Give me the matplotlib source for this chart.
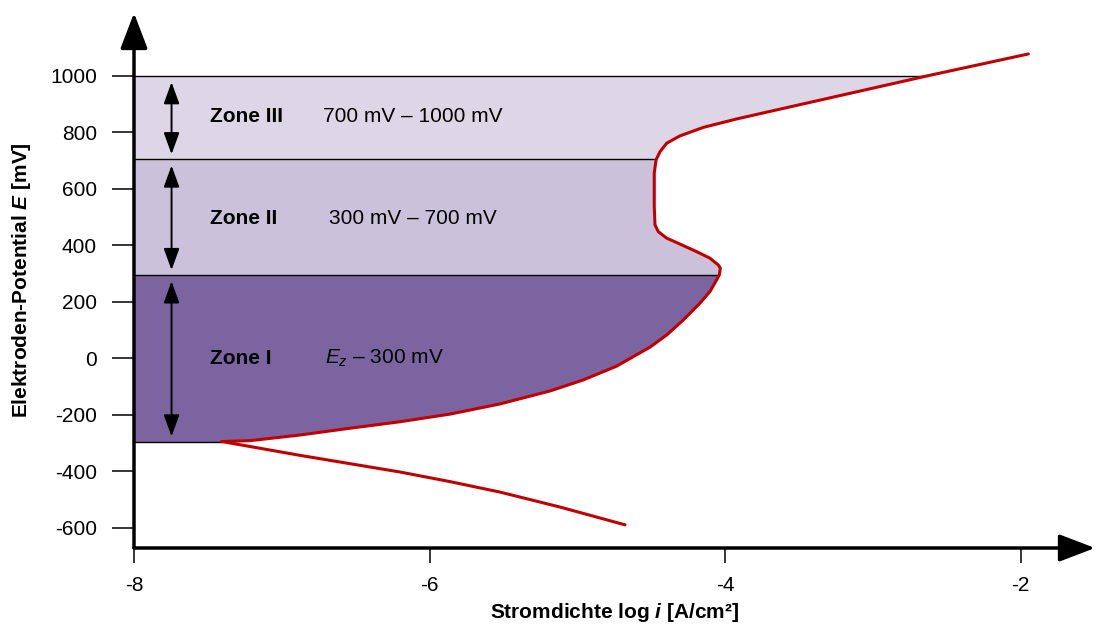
import matplotlib
matplotlib.use("Agg")
import matplotlib.pyplot as plt
import numpy as np
from matplotlib.patches import Rectangle

plt.rcParams['font.family'] = ['Liberation Sans', 'DejaVu Sans']
plt.rcParams['axes.unicode_minus'] = False
plt.rcParams['mathtext.fontset'] = 'custom'
plt.rcParams['mathtext.rm'] = 'Liberation Sans'
plt.rcParams['mathtext.it'] = 'Liberation Sans:italic'
plt.rcParams['mathtext.bf'] = 'Liberation Sans:bold'
plt.rcParams['mathtext.bfit'] = 'Liberation Sans:italic:bold'

# Stromdichte-Potential-Kurve
anodic_logi = [-7.407, -7.215, -6.877, -6.539, -6.200, -5.862, -5.524, -5.185,
               -4.960, -4.734, -4.509, -4.396, -4.284, -4.172, -4.103, -4.058,
               -4.040, -4.033, -4.047, -4.103, -4.193, -4.306, -4.396, -4.453,
               -4.475, -4.480, -4.480, -4.468, -4.441, -4.396, -4.306, -4.148,
               -3.922, -2.637, -1.949]
anodic_E = [-294, -291, -271, -247, -224, -197, -161, -115,
            -76, -27, 40, 83, 136, 195, 237, 278,
            296, 320, 331, 355, 378, 405, 426, 449,
            473, 537, 656, 703, 732, 762, 788, 818,
            848, 1000, 1078]
cathodic_logi = [-7.407, -6.877, -6.200, -5.862, -5.524, -5.118, -4.678]
cathodic_E = [-294, -343, -402, -436, -473, -526, -589]

# Zonen
zone_lo = [-294, 295, 705]
zone_hi = [295, 705, 1000]
zone_names = ['Zone I', 'Zone II', 'Zone III']
zone_ranges = ['$E_z$ – 300 mV', '300 mV – 700 mV', '700 mV – 1000 mV']
zone_colors = ['#7c64a0', '#ccc1da', '#ddd6e6']

yticks = [-600, -400, -200, 0, 200, 400, 600, 800, 1000]
xticks = [-8, -6, -4, -2]

fig = plt.figure(figsize=(10.95, 6.25), dpi=100)
ax = fig.add_axes([134 / 1095, 77 / 625, 961 / 1095, 535 / 625])
ax.set_xlim(-8, -1.498)
ax.set_ylim(-671, 1223)

# Flaechen zwischen Achse und Kurve
for lo, hi, c in zip(zone_lo, zone_hi, zone_colors):
    poly = ax.fill_betweenx(anodic_E, -8, anodic_logi, color=c, lw=0, zorder=1)
    clip = Rectangle((-8, lo), 10, hi - lo, transform=ax.transData)
    poly.set_clip_path(clip)

# Zonengrenzen
levels = [-294, 295, 705, 1000]
for lv in levels:
    xe = np.interp(lv, anodic_E, anodic_logi)
    ax.plot([-8, xe], [lv, lv], color='black', lw=1.0, zorder=2)

ax.plot(anodic_logi, anodic_E, color='#c00000', lw=2.2, zorder=4,
        solid_joinstyle='round', solid_capstyle='round')
ax.plot(cathodic_logi, cathodic_E, color='#c00000', lw=2.2, zorder=4,
        solid_joinstyle='round', solid_capstyle='round')

# Pfeile und Beschriftungen der Zonen
y_text = [0, 497, 858]
x_range = [-6.708, -6.68, -6.721]
for lo, hi, name, rng, yt, xr in zip(zone_lo, zone_hi, zone_names,
                                     zone_ranges, y_text, x_range):
    ax.annotate('', xy=(-7.746, hi - 22), xytext=(-7.746, lo + 18),
                arrowprops=dict(arrowstyle='<|-|>,head_length=1.1,head_width=0.4',
                                mutation_scale=12, lw=1.4, color='black',
                                shrinkA=0, shrinkB=0), zorder=5)
    ax.text(-7.486, yt, name, fontsize=15, fontweight='bold', va='center',
            ha='left', zorder=5)
    ax.text(xr, yt, rng, fontsize=15, va='center', ha='left', zorder=5)

# Achsen mit Pfeilspitzen
for s in ax.spines.values():
    s.set_visible(False)
ax.annotate('', xy=(1, 0), xytext=(0, 0), xycoords='axes fraction',
            arrowprops=dict(arrowstyle='-|>,head_length=1.1,head_width=0.42',
                            mutation_scale=20, lw=2.5, color='black',
                            shrinkA=0, shrinkB=0), annotation_clip=False)
ax.annotate('', xy=(0, 1), xytext=(0, 0), xycoords='axes fraction',
            arrowprops=dict(arrowstyle='-|>,head_length=1.1,head_width=0.42',
                            mutation_scale=20, lw=2.5, color='black',
                            shrinkA=0, shrinkB=0), annotation_clip=False)

ax.set_yticks(yticks)
ax.set_xticks(xticks)
ax.tick_params(axis='y', length=15.8, width=1.1, pad=11, labelsize=15)
ax.tick_params(axis='x', length=10.5, width=1.1, pad=10, labelsize=15)

ax.set_xlabel('Stromdichte log $\\mathbfit{i}$ [A/cm²]', fontsize=15,
              fontweight='bold', labelpad=4)
ax.set_ylabel('Elektroden-Potential $\\mathbfit{E}$ [mV]', fontsize=15,
              fontweight='bold', labelpad=12)

fig.savefig('out.png', dpi=100)
